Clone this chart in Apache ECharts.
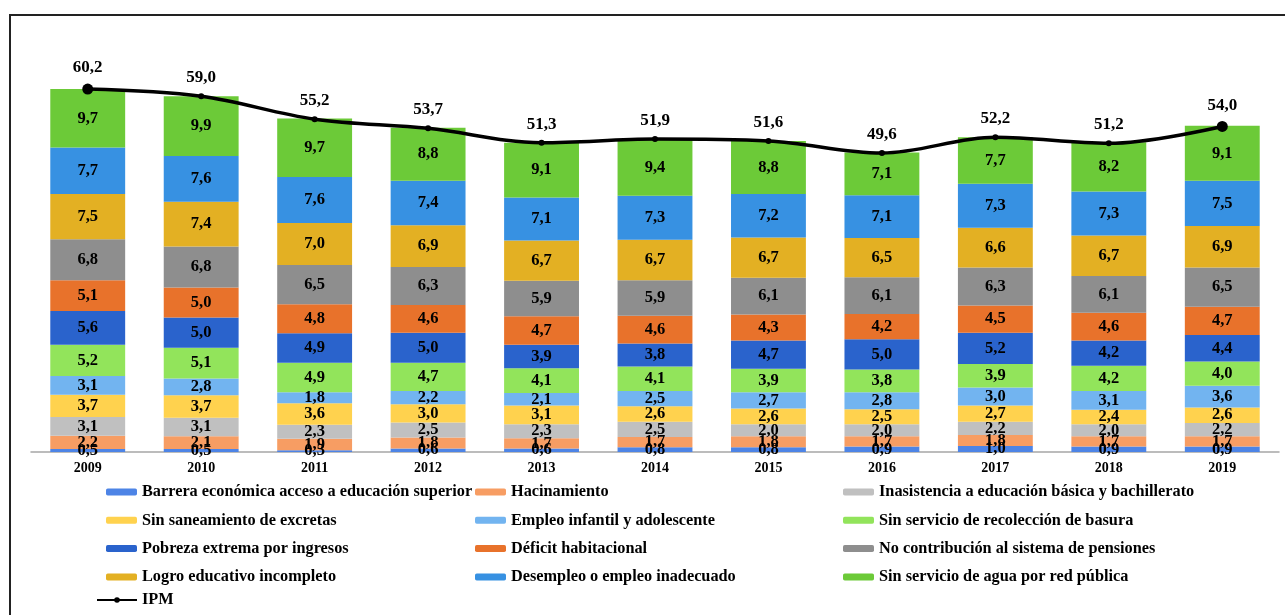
<!DOCTYPE html>
<html>
<head>
<meta charset="utf-8">
<script src="https://cdn.jsdelivr.net/npm/echarts@6/dist/echarts.min.js"></script>
<style>
html,body{margin:0;padding:0;background:#fff;}
#chart{width:1285px;height:615px;}
</style>
</head>
<body>
<div id="chart"></div>
<script>
var years = ['2009','2010','2011','2012','2013','2014','2015','2016','2017','2018','2019'];
var seriesNames = [
  'Barrera económica acceso a educación superior',
  'Hacinamiento',
  'Inasistencia a educación básica y bachillerato',
  'Sin saneamiento de excretas',
  'Empleo infantil y adolescente',
  'Sin servicio de recolección de basura',
  'Pobreza extrema por ingresos',
  'Déficit habitacional',
  'No contribución al sistema de pensiones',
  'Logro educativo incompleto',
  'Desempleo o empleo inadecuado',
  'Sin servicio de agua por red pública'
];
var barrera      = [0.5,0.5,0.3,0.6,0.6,0.8,0.8,0.9,1.0,0.9,0.9];
var hacinamiento = [2.2,2.1,1.9,1.8,1.7,1.7,1.8,1.7,1.8,1.7,1.7];
var inasistencia = [3.1,3.1,2.3,2.5,2.3,2.5,2.0,2.0,2.2,2.0,2.2];
var saneamiento  = [3.7,3.7,3.6,3.0,3.1,2.6,2.6,2.5,2.7,2.4,2.6];
var empleoInf    = [3.1,2.8,1.8,2.2,2.1,2.5,2.7,2.8,3.0,3.1,3.6];
var basura       = [5.2,5.1,4.9,4.7,4.1,4.1,3.9,3.8,3.9,4.2,4.0];
var pobreza      = [5.6,5.0,4.9,5.0,3.9,3.8,4.7,5.0,5.2,4.2,4.4];
var deficit      = [5.1,5.0,4.8,4.6,4.7,4.6,4.3,4.2,4.5,4.6,4.7];
var pensiones    = [6.8,6.8,6.5,6.3,5.9,5.9,6.1,6.1,6.3,6.1,6.5];
var logro        = [7.5,7.4,7.0,6.9,6.7,6.7,6.7,6.5,6.6,6.7,6.9];
var desempleo    = [7.7,7.6,7.6,7.4,7.1,7.3,7.2,7.1,7.3,7.3,7.5];
var agua         = [9.7,9.9,9.7,8.8,9.1,9.4,8.8,7.1,7.7,8.2,9.1];
var ipm          = [60.2,59.0,55.2,53.7,51.3,51.9,51.6,49.6,52.2,51.2,54.0];

var seriesData = [barrera,hacinamiento,inasistencia,saneamiento,empleoInf,basura,pobreza,deficit,pensiones,logro,desempleo,agua];
var colors = ['#4d84e6','#f79d63','#c0c0c0','#ffd24e','#72b4f0','#92e45b','#2a63cc','#e8722b','#8e8e8e','#e3b023','#3791e2','#6cca38'];

var FONT = '"Liberation Serif","Times New Roman",serif';
function fmt(v){ return Number(v).toFixed(1).replace('.', ','); }

var series = seriesData.map(function(d,i){
  return {
    name: seriesNames[i],
    type: 'bar',
    stack: 'total',
    data: d,
    barWidth: '66%',
    itemStyle: {color: colors[i]},
    label: {
      show: true, position: 'inside',
      formatter: function(p){ return fmt(p.value); },
      color: '#000', fontFamily: FONT, fontWeight: 'bold', fontSize: 16.5
    },
    emphasis: {disabled: true}
  };
});
series.push({
  name: 'IPM',
  type: 'line',
  data: ipm,
  smooth: 0.35,
  symbol: 'circle',
  symbolSize: function(v, p){ return (p.dataIndex === 0 || p.dataIndex === ipm.length-1) ? 11 : 6; },
  lineStyle: {color: '#000', width: 3.5},
  itemStyle: {color: '#000'},
  label: {
    show: true, position: 'top', distance: 7,
    formatter: function(p){ return fmt(p.value); },
    color: '#000', fontFamily: FONT, fontWeight: 'bold', fontSize: 17
  },
  z: 10,
  emphasis: {disabled: true}
});

var legendText = {fontFamily: FONT, fontWeight: 'bold', fontSize: 16.3, color: '#000', lineHeight: 18};
function mkLegend(names, left, top, w){
  return {
    orient: 'vertical', left: left, top: top, height: 200, padding: 0,
    itemWidth: w || 31, itemHeight: 7, itemGap: 10.3,
    textStyle: legendText, data: names, selectedMode: false
  };
}

var chart = echarts.init(document.getElementById('chart'));
chart.setOption({
  animation: false,
  backgroundColor: '#fff',
  graphic: [{
    type: 'rect', shape: {x: 10, y: 15, width: 1400, height: 800},
    style: {fill: 'none', stroke: '#222', lineWidth: 2}, z: -1
  }],
  grid: {left: 31, right: 6, top: 30, bottom: 163},
  legend: [
    mkLegend([seriesNames[0], seriesNames[3], seriesNames[6], seriesNames[9]], 106, 483),
    mkLegend(['IPM'], 96, 591, 40),
    mkLegend([seriesNames[1], seriesNames[4], seriesNames[7], seriesNames[10]], 475, 483),
    mkLegend([seriesNames[2], seriesNames[5], seriesNames[8], seriesNames[11]], 843, 483)
  ],
  xAxis: {
    type: 'category', data: years,
    axisLine: {lineStyle: {color: '#a6a6a6', width: 1.5}},
    axisTick: {show: false},
    axisLabel: {color: '#000', fontFamily: FONT, fontWeight: 'bold', fontSize: 14, margin: 9}
  },
  yAxis: {type: 'value', min: 0, max: 70, show: false, splitLine: {show: false}},
  series: series
});
</script>
</body>
</html>
